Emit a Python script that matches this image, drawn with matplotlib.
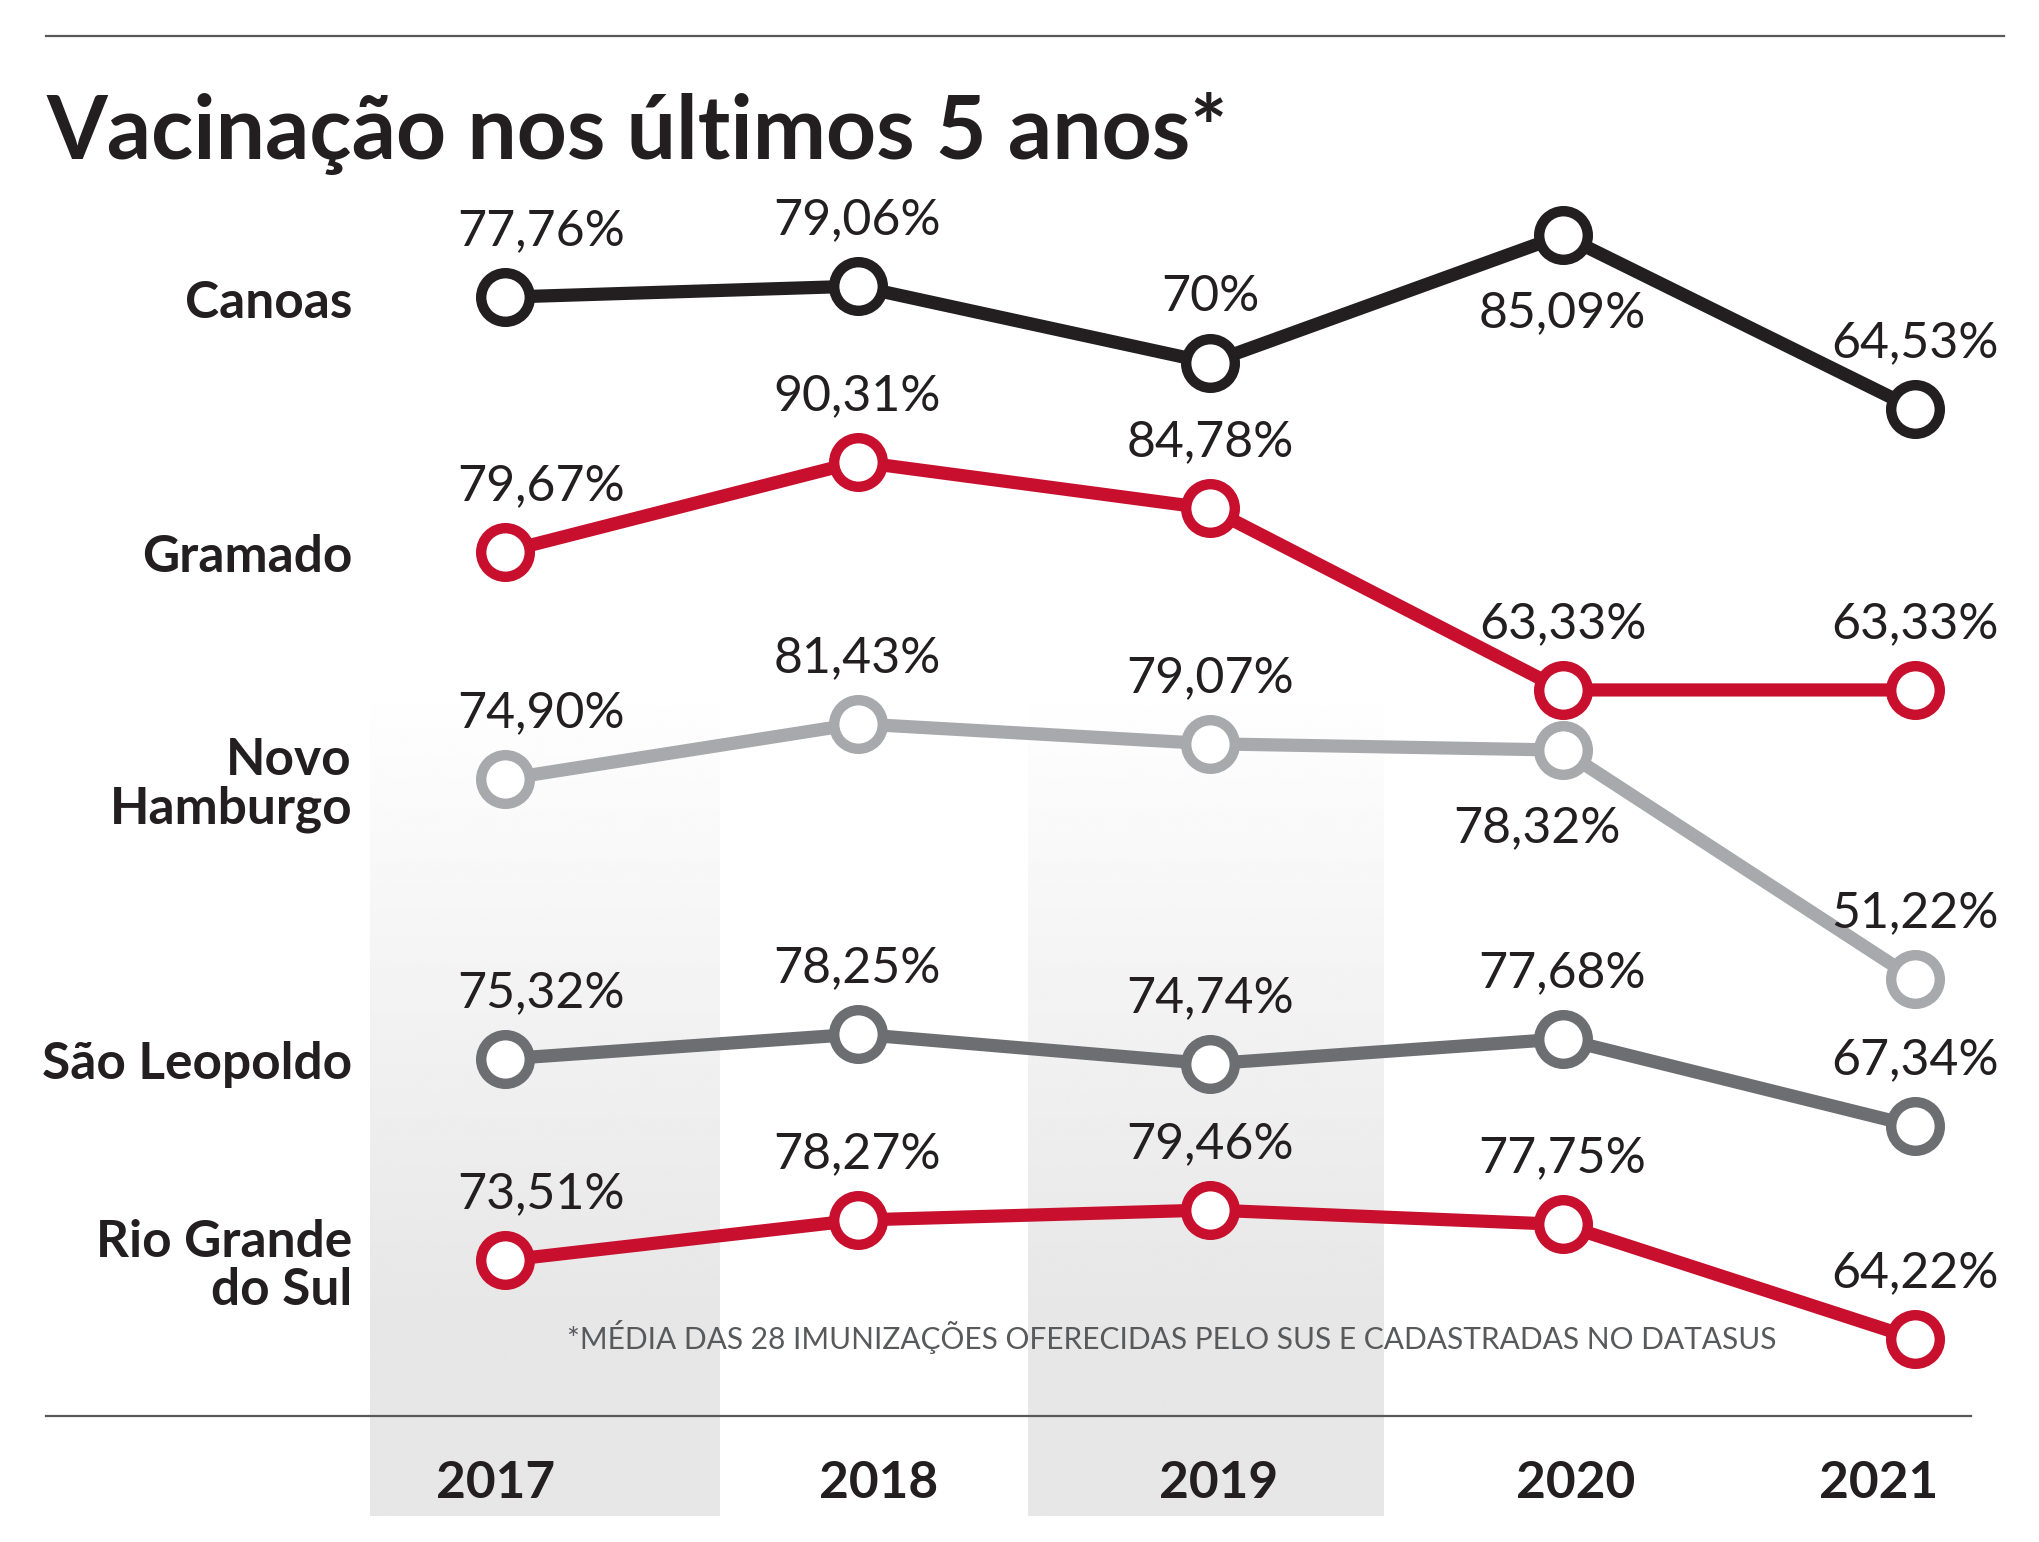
import numpy as np
import matplotlib
matplotlib.use('Agg')
import matplotlib.pyplot as plt
from matplotlib import rcParams
rcParams['font.family'] = ['Lato', 'DejaVu Sans']

# dados
years = [2017, 2018, 2019, 2020, 2021]
cities = ['Canoas', 'Gramado', 'Novo\nHamburgo', 'São Leopoldo', 'Rio Grande\ndo Sul']
canoas = [77.76, 79.06, 70.00, 85.09, 64.53]
gramado = [79.67, 90.31, 84.78, 63.33, 63.33]
novo_hamburgo = [74.90, 81.43, 79.07, 78.32, 51.22]
sao_leopoldo = [75.32, 78.25, 74.74, 77.68, 67.34]
rio_grande_do_sul = [73.51, 78.27, 79.46, 77.75, 64.22]
series = [canoas, gramado, novo_hamburgo, sao_leopoldo, rio_grande_do_sul]
title = 'Vacinação nos últimos 5 anos*'
footnote = '*MÉDIA DAS 28 IMUNIZAÇÕES OFERECIDAS PELO SUS E CADASTRADAS NO DATASUS'

# layout
colors = ['#231f20', '#c8102e', '#a7a9ac', '#6d6e71', '#c8102e']
row_shift = [0, 32.0, 54.1, 87.6, 109.6]     # deslocamento vertical de cada linha
below = {(0, 3), (2, 3)}                     # rótulos abaixo do ponto
W, H = 2040, 1542
px_year = 352.5
x0_px = 505
k = 8.46                                     # px por ponto percentual

fig = plt.figure(figsize=(W / 100, H / 100), dpi=100)
fig.patch.set_facecolor('white')

# faixas cinzas (2017 e 2019) com degradê
def band(x_left, x_right, y_top, y_bottom):
    ax_b = fig.add_axes([x_left / W, 1 - y_bottom / H, (x_right - x_left) / W, (y_bottom - y_top) / H])
    ax_b.axis('off')
    n = 400
    t = np.linspace(0, 1, n)
    ramp = np.clip(t / 0.75, 0, 1)
    shade = 1 - ramp * (1 - 0.905)
    img = np.repeat(shade[:, None], 2, axis=1)
    ax_b.imshow(img, cmap='gray', vmin=0, vmax=1, aspect='auto', interpolation='bicubic')
    ax_b.set_zorder(0)

band(370, 720, 680, 1516)
band(1028, 1383, 680, 1516)

ax = fig.add_axes([0, 0, 1, 1])
ax.patch.set_alpha(0)
ax.set_zorder(1)
ax.set_xlim(2017 - x0_px / px_year, 2017 + (W - x0_px) / px_year)
y_bot = -(H - 955) / k
ax.set_ylim(y_bot, y_bot + H / k)
ax.axis('off')

for i, (vals, name, col) in enumerate(zip(series, cities, colors)):
    y = [v - row_shift[i] for v in vals]
    ax.plot(years, y, color=col, lw=9.5, solid_capstyle='round', zorder=3)
    ax.plot(years, y, 'o', ms=35, mfc='white', mec=col, mew=7.5, zorder=4)
    for j, (xx, yy, v) in enumerate(zip(years, y, vals)):
        txt = ('%d%%' % v) if float(v).is_integer() else ('%.2f%%' % v).replace('.', ',')
        dx = 36 if j == 0 else 0
        if (i, j) in below:
            dy = -78
            if i == 2:
                dx = -26
        else:
            dy = 66
        ax.annotate(txt, (xx, yy), xytext=(dx, dy), textcoords='offset pixels',
                    ha='center', va='center', fontsize=36, fontweight='normal',
                    color='#231f20', zorder=5)
    ax.annotate(name, (years[0], y[0]), xytext=(-153, -6), textcoords='offset pixels',
                ha='right', va='center', fontsize=37, fontweight='bold',
                color='#231f20', linespacing=1.02, zorder=5)

# anos
year_dx = [-9, 21, 9, 13, -36]
for yr, dx in zip(years, year_dx):
    ax.annotate(str(yr), (yr, 0), xycoords=('data', 'figure fraction'),
                xytext=(dx, H - 1483), textcoords='offset pixels',
                ha='center', va='center', fontsize=37, fontweight='bold',
                color='#231f20', zorder=5)

# linhas horizontais
fig.add_artist(plt.Line2D([46 / W, 2004 / W], [1 - 36 / H] * 2, color='#58595b', lw=1.6))
fig.add_artist(plt.Line2D([46 / W, 1971 / W], [1 - 1416 / H] * 2, color='#58595b', lw=1.6))

fig.text(46 / W, 1 - 159 / H, title, ha='left', va='baseline', fontsize=63,
         fontweight='bold', color='#231f20')
fig.text((559 + 1785) / 2 / W, 1 - 1337 / H, footnote, ha='center', va='center',
         fontsize=21.5, fontweight='normal', color='#58595b', zorder=6)

fig.savefig('out.png', dpi=100)
